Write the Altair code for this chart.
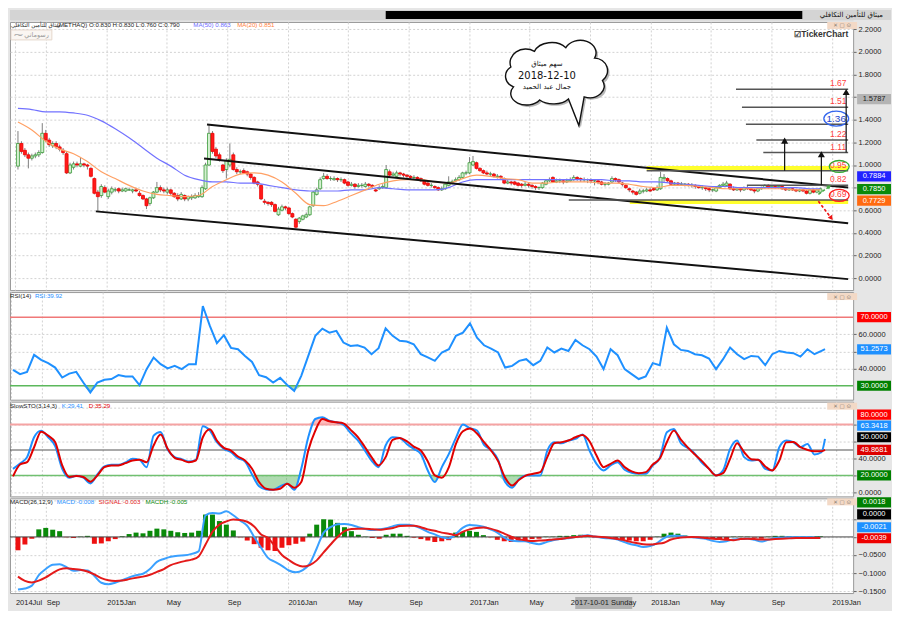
import altair as alt
import pandas as pd

# ---------------- data ----------------
FIRST_WEEK = "2014-07-06"

opens = [0.99,1.19,1.13,1.09,1.06,1.08,1.09,1.11,1.28,1.22,
         1.17,1.19,1.16,1.13,1.10,0.93,0.98,1.01,0.99,1.01,
         1.00,0.97,0.88,0.76,0.73,0.80,0.72,0.76,0.78,0.79,
         0.77,0.77,0.78,0.77,0.78,0.75,0.73,0.70,0.66,0.71,
         0.76,0.80,0.78,0.76,0.78,0.75,0.73,0.70,0.73,0.70,
         0.71,0.71,0.72,0.72,0.79,1.00,1.28,1.14,1.09,1.00,
         0.96,1.00,1.09,0.96,0.94,0.95,0.94,0.92,0.89,0.85,
         0.82,0.68,0.67,0.67,0.65,0.56,0.60,0.63,0.62,0.57,
         0.52,0.50,0.52,0.54,0.56,0.64,0.74,0.79,0.88,0.90,
         0.88,0.87,0.88,0.87,0.87,0.85,0.82,0.83,0.81,0.82,
         0.81,0.83,0.82,0.78,0.79,0.80,0.80,0.94,0.91,0.90,
         0.93,0.92,0.91,0.90,0.89,0.89,0.88,0.86,0.84,0.82,
         0.81,0.80,0.78,0.79,0.82,0.85,0.86,0.87,0.89,0.93,
         0.93,1.00,1.02,0.97,0.95,0.93,0.92,0.92,0.90,0.90,
         0.88,0.84,0.85,0.85,0.84,0.83,0.82,0.83,0.82,0.81,
         0.80,0.80,0.83,0.86,0.89,0.85,0.86,0.86,0.85,0.86,
         0.87,0.89,0.88,0.87,0.87,0.87,0.86,0.86,0.85,0.83,
         0.83,0.85,0.88,0.87,0.84,0.82,0.79,0.77,0.76,0.75,
         0.77,0.77,0.78,0.79,0.78,0.79,0.88,0.88,0.86,0.83,
         0.84,0.83,0.83,0.83,0.82,0.82,0.81,0.80,0.80,0.79,
         0.78,0.77,0.80,0.82,0.82,0.83,0.79,0.78,0.79,0.78,
         0.80,0.79,0.78,0.77,0.79,0.80,0.82,0.80,0.81,0.80,
         0.81,0.79,0.78,0.79,0.78,0.77,0.78,0.77,0.75,0.78,
         0.76,0.76]
highs = [1.30,1.21,1.15,1.11,1.10,1.11,1.13,1.37,1.31,1.24,
         1.21,1.21,1.18,1.15,1.12,1.02,1.03,1.03,1.07,1.02,
         1.01,0.98,0.89,0.78,0.83,0.82,0.79,0.81,0.80,0.80,
         0.80,0.80,0.80,0.79,0.80,0.77,0.74,0.71,0.72,0.77,
         0.85,0.82,0.80,0.80,0.79,0.76,0.75,0.76,0.74,0.73,
         0.74,0.75,0.76,0.82,1.02,1.36,1.30,1.16,1.11,1.01,
         1.06,1.19,1.11,0.98,0.96,0.97,0.95,0.93,0.90,0.86,
         0.83,0.70,0.68,0.68,0.66,0.63,0.65,0.64,0.63,0.58,
         0.53,0.54,0.56,0.58,0.64,0.77,0.80,0.89,0.93,0.92,
         0.90,0.90,0.89,0.89,0.88,0.86,0.85,0.84,0.84,0.84,
         0.85,0.84,0.83,0.79,0.82,0.83,1.00,0.96,0.94,0.95,
         0.94,0.93,0.92,0.91,0.91,0.90,0.89,0.87,0.85,0.84,
         0.82,0.81,0.81,0.84,0.90,0.87,0.89,0.91,0.94,0.95,
         1.07,1.08,1.03,0.98,0.96,0.95,0.94,0.93,0.92,0.91,
         0.89,0.87,0.86,0.86,0.85,0.84,0.85,0.84,0.83,0.82,
         0.81,0.85,0.87,0.89,0.90,0.88,0.88,0.87,0.88,0.89,
         0.91,0.90,0.89,0.89,0.88,0.88,0.87,0.87,0.86,0.85,
         0.85,0.90,0.89,0.88,0.85,0.83,0.80,0.78,0.77,0.79,
         0.79,0.80,0.80,0.80,0.82,0.94,0.92,0.89,0.87,0.85,
         0.85,0.85,0.84,0.84,0.84,0.83,0.82,0.82,0.81,0.80,
         0.79,0.81,0.83,0.85,0.86,0.84,0.81,0.80,0.80,0.81,
         0.82,0.80,0.79,0.80,0.81,0.83,0.83,0.82,0.82,0.82,
         0.82,0.80,0.80,0.80,0.79,0.79,0.79,0.78,0.79,0.79,
         0.79,0.80]
lows = [0.96,1.10,1.07,0.97,1.04,1.06,1.07,1.10,1.20,1.16,
        1.15,1.14,1.12,1.09,0.92,0.92,0.96,0.98,0.98,0.98,
        0.96,0.89,0.74,0.59,0.71,0.75,0.70,0.74,0.76,0.75,
        0.76,0.76,0.77,0.75,0.76,0.72,0.69,0.61,0.64,0.70,
        0.75,0.76,0.75,0.74,0.73,0.71,0.68,0.69,0.68,0.68,
        0.69,0.70,0.71,0.71,0.78,0.99,1.10,1.06,1.03,0.93,
        0.88,0.98,0.95,0.92,0.92,0.92,0.90,0.87,0.83,0.81,
        0.69,0.65,0.64,0.63,0.58,0.55,0.59,0.60,0.56,0.53,
        0.44,0.48,0.51,0.53,0.55,0.63,0.73,0.78,0.87,0.87,
        0.86,0.86,0.85,0.85,0.83,0.81,0.81,0.79,0.80,0.80,
        0.80,0.80,0.79,0.76,0.78,0.79,0.79,0.89,0.90,0.89,
        0.90,0.89,0.88,0.87,0.87,0.87,0.85,0.82,0.81,0.80,
        0.79,0.77,0.77,0.78,0.81,0.83,0.85,0.86,0.88,0.91,
        0.92,0.99,0.96,0.94,0.92,0.91,0.90,0.89,0.88,0.87,
        0.83,0.83,0.82,0.82,0.81,0.80,0.81,0.80,0.79,0.78,
        0.78,0.79,0.82,0.85,0.84,0.84,0.84,0.83,0.84,0.85,
        0.86,0.86,0.85,0.85,0.84,0.84,0.82,0.83,0.82,0.81,
        0.82,0.84,0.85,0.84,0.81,0.79,0.76,0.74,0.73,0.74,
        0.75,0.76,0.76,0.77,0.77,0.78,0.85,0.85,0.82,0.82,
        0.82,0.82,0.81,0.81,0.80,0.79,0.79,0.78,0.77,0.76,
        0.76,0.76,0.79,0.81,0.81,0.78,0.77,0.77,0.76,0.77,
        0.78,0.77,0.75,0.76,0.78,0.79,0.79,0.79,0.79,0.79,
        0.78,0.77,0.77,0.77,0.76,0.76,0.76,0.74,0.74,0.75,
        0.75,0.75]
closes = [1.19,1.12,1.09,1.06,1.08,1.09,1.11,1.28,1.22,1.18,
          1.19,1.16,1.14,1.11,0.93,1.00,1.01,1.00,1.01,1.00,
          0.99,0.90,0.75,0.72,0.81,0.76,0.77,0.79,0.78,0.77,
          0.78,0.79,0.78,0.78,0.77,0.73,0.70,0.64,0.71,0.76,
          0.80,0.78,0.77,0.78,0.75,0.72,0.70,0.74,0.70,0.72,
          0.72,0.73,0.73,0.80,1.00,1.28,1.12,1.08,1.05,0.95,
          1.04,1.05,0.96,0.94,0.94,0.93,0.92,0.89,0.84,0.83,
          0.70,0.67,0.66,0.65,0.59,0.61,0.63,0.62,0.57,0.54,
          0.45,0.53,0.55,0.56,0.63,0.76,0.78,0.87,0.90,0.88,
          0.88,0.88,0.87,0.87,0.84,0.82,0.83,0.81,0.82,0.82,
          0.83,0.82,0.81,0.77,0.80,0.81,0.96,0.91,0.92,0.93,
          0.92,0.91,0.90,0.89,0.89,0.88,0.86,0.83,0.82,0.82,
          0.80,0.78,0.79,0.83,0.85,0.85,0.87,0.89,0.93,0.93,
          1.02,1.03,0.97,0.95,0.93,0.92,0.92,0.90,0.90,0.89,
          0.84,0.85,0.84,0.83,0.82,0.82,0.83,0.82,0.81,0.80,
          0.80,0.84,0.86,0.87,0.85,0.86,0.86,0.85,0.86,0.87,
          0.89,0.88,0.87,0.87,0.87,0.86,0.86,0.85,0.83,0.83,
          0.84,0.88,0.87,0.85,0.83,0.80,0.78,0.76,0.74,0.77,
          0.77,0.78,0.77,0.78,0.80,0.89,0.89,0.86,0.83,0.84,
          0.83,0.83,0.83,0.82,0.82,0.81,0.80,0.80,0.79,0.78,
          0.78,0.80,0.82,0.83,0.84,0.79,0.78,0.79,0.78,0.80,
          0.79,0.78,0.77,0.79,0.80,0.82,0.80,0.81,0.80,0.81,
          0.79,0.78,0.79,0.78,0.77,0.78,0.77,0.75,0.78,0.76,
          0.78,0.79]

MA_WEEKS = list(range(0, 229, 4)) + [231]
ma50 = [1.50,1.49,1.47,1.47,1.46,1.44,1.39,1.32,1.24,1.15,
        1.06,0.99,0.91,0.87,0.85,0.85,0.84,0.84,0.82,0.80,
        0.78,0.77,0.77,0.77,0.78,0.78,0.80,0.79,0.78,0.78,
        0.78,0.80,0.85,0.87,0.87,0.87,0.87,0.87,0.87,0.87,
        0.87,0.87,0.87,0.86,0.86,0.85,0.85,0.84,0.83,0.82,
        0.81,0.81,0.80,0.80,0.80,0.80,0.80,0.79,0.79]
ma20 = [1.38,1.31,1.21,1.14,1.10,1.03,0.94,0.88,0.82,0.77,
        0.74,0.73,0.72,0.73,0.81,0.87,0.92,0.93,0.91,0.85,
        0.75,0.65,0.64,0.68,0.73,0.78,0.83,0.86,0.87,0.87,
        0.85,0.84,0.88,0.91,0.90,0.88,0.87,0.84,0.84,0.85,
        0.85,0.85,0.84,0.84,0.83,0.81,0.80,0.82,0.82,0.81,
        0.80,0.79,0.79,0.79,0.79,0.79,0.78,0.78,0.78]

IND_WEEKS = list(range(0, 231, 2)) + [231]
rsi = [39.3,36.8,38.1,48.0,45.1,43.2,40.6,34.8,37.1,38.1,
       31.9,26.1,31.9,33.5,33.9,36.2,35.4,35.4,30.4,39.7,
       46.5,42.6,40.1,41.6,39.7,42.6,42.6,76.5,64.9,54.8,
       59.5,52.1,51.3,47.4,43.9,36.2,35.0,31.9,34.6,30.4,
       27.0,35.8,47.4,59.1,63.3,61.0,62.0,55.2,53.2,53.6,
       52.3,48.4,51.9,63.5,59.1,56.2,55.8,54.2,48.4,46.5,
       44.5,49.4,51.3,59.1,61.0,66.4,58.1,53.6,51.7,49.4,
       40.6,41.6,44.5,45.5,42.0,44.5,52.3,49.4,51.7,50.3,
       56.7,53.6,51.3,47.0,39.7,51.3,47.8,39.7,36.8,33.9,
       35.4,43.2,42.0,63.9,54.2,50.9,50.3,48.4,47.8,45.9,
       39.7,45.5,52.3,48.4,45.5,47.4,47.0,42.0,48.4,50.3,
       49.4,49.0,47.0,51.3,48.4,50.3,51.3]
sto_k = [27.8,34.1,41.6,65.1,72.9,65.1,54.5,27.8,17.3,19.6,
         17.3,10.6,21.2,30.6,32.5,32.5,35.3,39.6,38.4,29.8,
         67.0,71.4,50.2,41.6,39.2,36.5,38.4,78.0,72.9,59.2,
         51.4,47.4,40.4,36.5,21.2,7.1,3.5,3.1,7.1,10.2,
         3.1,27.8,65.1,86.6,88.6,84.7,82.7,80.0,70.2,61.9,
         50.2,37.6,29.8,55.3,65.1,64.3,57.2,51.4,45.5,25.9,
         12.2,29.8,45.5,64.3,80.0,75.7,72.9,56.1,50.2,38.4,
         12.2,5.5,15.7,20.0,20.0,20.0,49.4,59.2,58.0,61.2,
         63.1,68.2,49.4,33.7,25.9,31.8,35.7,26.7,23.1,22.0,
         22.0,31.8,40.8,71.0,74.9,58.0,52.5,45.5,34.9,27.8,
         20.0,25.9,51.4,61.2,41.6,37.6,38.4,27.8,25.9,53.3,
         61.2,59.2,53.3,57.2,44.7,47.4,63.1]
sto_d = [18.8,32.9,35.7,53.3,71.7,67.0,59.2,31.8,18.1,19.2,
         18.1,12.6,20.0,29.8,31.8,31.8,34.5,37.6,38.4,35.7,
         55.3,68.2,51.4,40.8,38.4,35.7,37.6,65.1,74.5,61.2,
         52.5,49.4,42.3,37.6,27.8,12.2,4.3,3.1,4.3,10.2,
         5.5,12.2,49.4,72.9,86.6,83.9,82.7,81.5,74.1,65.9,
         54.1,41.6,31.8,41.6,62.0,64.3,60.4,54.1,49.4,36.5,
         20.0,17.3,29.8,57.2,72.1,75.3,69.4,59.2,49.4,36.9,
         17.3,8.2,14.9,20.0,22.0,23.9,41.6,58.0,59.2,61.2,
         65.1,67.8,60.4,43.5,29.8,33.7,37.6,29.8,24.7,22.7,
         23.9,32.9,40.0,59.2,72.9,62.3,52.9,44.7,36.9,27.8,
         20.0,22.7,39.6,58.0,47.4,39.2,38.4,30.6,25.9,37.6,
         59.2,59.6,53.3,50.2,48.6,48.6,50.2]
macd = [-0.146,-0.143,-0.135,-0.106,-0.089,-0.077,-0.076,-0.084,-0.094,-0.092,
        -0.093,-0.108,-0.127,-0.131,-0.127,-0.120,-0.112,-0.106,-0.102,-0.089,
        -0.069,-0.061,-0.055,-0.052,-0.051,-0.047,-0.040,0.060,0.066,0.065,
        0.071,0.060,0.045,0.031,0.000,-0.030,-0.058,-0.069,-0.080,-0.093,
        -0.098,-0.092,-0.074,-0.032,0.012,0.027,0.035,0.036,0.033,0.027,
        0.022,0.019,0.021,0.024,0.030,0.034,0.034,0.031,0.024,0.014,
        0.007,-0.001,-0.004,0.007,0.025,0.033,0.032,0.028,0.021,0.012,
        -0.002,-0.010,-0.012,-0.012,-0.017,-0.020,-0.015,-0.009,-0.006,-0.004,
        -0.001,0.002,0.005,0.001,-0.002,-0.004,-0.006,-0.012,-0.019,-0.023,
        -0.028,-0.025,-0.017,-0.003,0.003,0.003,0.001,-0.001,-0.003,-0.005,
        -0.011,-0.014,-0.012,-0.007,-0.006,-0.005,-0.008,-0.013,-0.008,-0.003,
        -0.002,-0.001,-0.001,-0.001,-0.001,-0.002,-0.002]
macd_signal = [-0.110,-0.122,-0.126,-0.121,-0.112,-0.100,-0.090,-0.087,-0.089,-0.091,
               -0.096,-0.104,-0.114,-0.120,-0.122,-0.121,-0.117,-0.113,-0.110,-0.105,
               -0.097,-0.089,-0.078,-0.072,-0.067,-0.063,-0.054,-0.021,0.014,0.034,
               0.043,0.048,0.047,0.042,0.029,0.007,-0.003,-0.026,-0.050,-0.064,
               -0.076,-0.082,-0.078,-0.065,-0.043,-0.021,0.000,0.016,0.022,0.023,
               0.023,0.021,0.020,0.022,0.025,0.030,0.031,0.031,0.027,0.021,
               0.017,0.012,0.009,0.005,0.014,0.021,0.025,0.026,0.023,0.017,
               0.009,0.001,-0.006,-0.009,-0.011,-0.010,-0.009,-0.007,-0.006,-0.003,
               -0.001,0.001,0.003,0.001,0.000,-0.002,-0.005,-0.008,-0.013,-0.017,
               -0.020,-0.021,-0.019,-0.016,-0.007,-0.003,-0.001,0.000,-0.001,-0.003,
               -0.005,-0.006,-0.008,-0.009,-0.006,-0.005,-0.006,-0.007,-0.007,-0.006,
               -0.005,-0.004,-0.003,-0.003,-0.003,-0.003,-0.003]
macd_hist = [-0.037,-0.021,-0.005,0.021,0.025,0.020,0.016,-0.001,-0.003,0.001,
             0.003,-0.019,-0.018,-0.012,-0.006,0.002,0.008,0.012,0.010,0.017,
             0.023,0.021,0.017,0.013,0.011,0.012,0.017,0.062,0.062,0.044,
             0.034,0.018,-0.001,-0.010,-0.020,-0.030,-0.037,-0.039,-0.030,-0.023,
             -0.019,-0.013,0.009,0.034,0.049,0.048,0.039,0.027,0.016,0.006,
             0.001,-0.003,-0.005,0.006,0.009,0.009,0.003,-0.002,-0.006,-0.010,
             -0.014,-0.012,-0.009,0.012,0.014,0.017,0.014,0.005,-0.001,-0.008,
             -0.012,-0.014,-0.012,-0.009,-0.006,-0.005,0.001,0.001,0.003,0.003,
             0.005,0.006,0.004,-0.001,-0.003,-0.005,-0.006,-0.008,-0.010,-0.012,
             -0.012,-0.008,0.001,0.009,0.012,0.009,0.004,0.001,-0.001,-0.003,
             -0.005,-0.007,-0.006,0.001,0.001,0.001,-0.002,-0.005,0.001,0.003,
             0.003,0.002,0.001,0.001,0.001,0.002,0.002]

x_ticks = ["2014-07-01","2014-09-01","2015-01-01","2015-05-01","2015-09-01",
           "2016-01-01","2016-05-01","2016-09-01","2017-01-01","2017-05-01",
           "2017-09-01","2018-01-01","2018-05-01","2018-09-01","2019-01-01"]

# chart annotations (dates / prices)
trend_d1 = ["2015-07-22", "2015-07-16", "2014-12-10"]
trend_p1 = [1.357, 1.057, 0.590]
trend_p2 = [0.800, 0.485, -0.009]
level_start = ["2018-06-22","2018-07-04","2018-07-12","2018-08-02","2018-08-16","2017-12-24","2018-07-14","2017-07-20"]
level_price = [1.67, 1.51, 1.36, 1.22, 1.11, 0.95, 0.82, 0.69]
level_text = ["1.67", "1.51", "1.36", "1.22", "1.11", "0.95", "0.82", "0.69"]
AX_END = "2019-02-03"

# ---------------- layout ----------------
W = 846
H_HEAD, H_PRICE, H_RSI, H_STO, H_MACD = 10, 269, 108, 95, 95
FONT = "Liberation Sans"
AR_FONT = "DejaVu Sans"
LEG = 6.2

wd = pd.date_range(FIRST_WEEK, periods=len(closes), freq="7D").strftime("%Y-%m-%d")
def wk(idx):
    return [wd[i] for i in idx]

candles = pd.DataFrame({"date": list(wd), "open": opens, "high": highs, "low": lows, "close": closes})
ma_df = pd.DataFrame({"date": wk(MA_WEEKS), "ma50": ma50, "ma20": ma20})
ind = pd.DataFrame({"date": wk(IND_WEEKS), "rsi": rsi, "k": sto_k, "d": sto_d,
                    "macd": macd, "sig": macd_signal, "hist": macd_hist})

xscale = alt.Scale(type="utc", nice=False,
                   domain=[alt.DateTime(year=2014, month=6, date=30, utc=True),
                           alt.DateTime(year=2019, month=2, date=3, utc=True)])
xvals = [alt.DateTime(year=int(s[:4]), month=int(s[5:7]), date=1, utc=True) for s in x_ticks]
GRID = "#d2d2d2"

xaxis_hidden = alt.Axis(values=xvals, grid=True, gridColor=GRID, gridDash=[2, 2], labels=False,
                        ticks=False, domain=False, title=None)
lab_expr = ("utcFormat(datum.value,'%m')=='01' || utcFormat(datum.value,'%Y%m')=='201407' ? "
            "utcFormat(datum.value,'%Y%b') : (utcFormat(datum.value,'%Y%m')=='201709' ? '' : "
            "utcFormat(datum.value,'%b'))")
xaxis_bottom = alt.Axis(values=xvals, grid=True, gridColor=GRID, gridDash=[2, 2], labels=True,
                        ticks=False, domain=False, title=None, labelExpr=lab_expr, labelAlign="left",
                        labelBaseline="top", labelPadding=6, labelFontSize=7.5, labelFont=FONT,
                        labelColor="#222", labelFlush=False, labelOverlap=False)

def yaxis(values, expr):
    return alt.Axis(orient="right", values=values, grid=True, gridColor=GRID, gridDash=[2, 2],
                    domain=False, ticks=True, tickSize=3, tickColor="#666", labelExpr=expr,
                    labelFontSize=7.5, labelFont=FONT, labelColor="#222", labelPadding=2, title=None)

def mkX(axis):
    def X(field):
        return alt.X(field, type="temporal", scale=xscale, axis=axis)
    return X

def mkY(scale, axis):
    def Y(field):
        return alt.Y(field, type="quantitative", scale=scale, axis=axis)
    def YD(v):
        return alt.YDatum(v, scale=scale, axis=axis)
    return Y, YD

one = pd.DataFrame({"k": [0]})

def txt(x, y, s, color="#222", size=7.5, align="left", weight="normal", font=FONT):
    return alt.Chart(one).mark_text(align=align, baseline="middle", fontSize=size, font=font,
                                    color=color, fontWeight=weight).encode(
        x=alt.value(x), y=alt.value(y), text=alt.value(s))

def box(x1, x2, y1, y2, fill, stroke=None):
    kw = dict(fill=fill)
    if stroke:
        kw.update(stroke=stroke, strokeWidth=1)
    return alt.Chart(one).mark_rect(**kw).encode(
        x=alt.value(x1), x2=alt.value(x2), y=alt.value(y1), y2=alt.value(y2))

def winctl(y0=1):
    return [box(W - 26, W + 4, y0, y0 + 7, "#f3d9c6"),
            txt(W - 11, y0 + 3.5, "✕ ▢ ⊙", color="#8a7a70", size=5.5, align="center", font=AR_FONT)]

BADGE = "M-1,-0.3L1,-0.3L1,0.3L-1,0.3Z"
def badges(Y, pos, texts, fills, tcolors):
    df = pd.DataFrame({"pos": pos, "t": texts, "f": fills, "tc": tcolors})
    b = alt.Chart(df).mark_point(shape=BADGE, filled=True, size=1156, opacity=1).encode(
        x=alt.value(W + 21), y=Y("pos"), color=alt.Color("f:N", scale=None))
    t = alt.Chart(df).mark_text(fontSize=7.5, font=FONT, align="center", baseline="middle").encode(
        x=alt.value(W + 21), y=Y("pos"), text="t:N", color=alt.Color("tc:N", scale=None))
    return [b, t]

# ---------------- header ----------------
header = alt.layer(
    box(0, W + 38, 0, H_HEAD, "#d4d4d4"),
    box(377, 795, 1, 9, "#000000"),
    txt(876, 5, "ميثاق للتأمين التكافلي", color="#111", size=7, align="right", font=AR_FONT),
).properties(width=W, height=H_HEAD,
             view=alt.ViewBackground(fill="#d4d4d4", stroke="transparent"))

# ---------------- price panel ----------------
XH = mkX(xaxis_hidden)
pscale = alt.Scale(domain=[-0.1057, 2.2643], nice=False, zero=False)
price_expr = "(abs(datum.value-1.6)<0.01 || abs(datum.value-0.8)<0.01) ? '' : format(datum.value,'.4f')"
price_axis = yaxis([0.0, 0.2, 0.4, 0.6, 0.8, 1.0, 1.2, 1.4, 1.6, 1.8, 2.0, 2.2], price_expr)
YP, YPD = mkY(pscale, price_axis)

wicks = alt.Chart(candles).mark_rule(color="#808080", strokeWidth=1).encode(
    x=XH("date"), y=YP("low"), y2="high")

bands = alt.Chart(pd.DataFrame({"d1": ["2017-12-24", "2017-11-20"], "d2": [AX_END, AX_END],
                                "p1": [0.95, 0.655], "p2": [0.99, 0.69]})).mark_rect(
    color="#ffff22", opacity=0.95).encode(x=XH("d1"), x2="d2", y=YP("p1"), y2="p2")

up = alt.Chart(candles).transform_filter("datum.close >= datum.open").mark_bar(
    size=3, fill="#d4f0d0", stroke="#3a9a3a", strokeWidth=0.8).encode(
    x=XH("date"), y=YP("open"), y2="close")
down = alt.Chart(candles).transform_filter("datum.close < datum.open").mark_bar(
    size=3, fill="#ff1a1a", stroke="#ee0000", strokeWidth=0.8).encode(
    x=XH("date"), y=YP("open"), y2="close")

ma50_l = alt.Chart(ma_df).mark_line(color="#7272ff", strokeWidth=1.2, interpolate="monotone").encode(
    x=XH("date"), y=YP("ma50"))
ma20_l = alt.Chart(ma_df).mark_line(color="#ffa064", strokeWidth=1.2, interpolate="monotone").encode(
    x=XH("date"), y=YP("ma20"))

trend_df = pd.DataFrame({"d1": trend_d1, "d2": [AX_END] * 3, "p1": trend_p1, "p2": trend_p2})
trend = alt.Chart(trend_df).mark_rule(color="#111", strokeWidth=2).encode(
    x=XH("d1"), x2="d2", y=YP("p1"), y2="p2")

lev_df = pd.DataFrame({"d1": level_start, "d2": [AX_END] * 8, "p": level_price, "t": level_text})
levels = alt.Chart(lev_df).mark_rule(color="#555", strokeWidth=1.5).encode(
    x=XH("d1"), x2="d2", y=YP("p"))
lev_lab = alt.Chart(lev_df[lev_df.t != "1.36"].assign(d="2019-01-14")).mark_text(
    color="#ff4040", fontSize=8.5, font=FONT, baseline="bottom", dy=-1, align="center").encode(
    x=XH("d"), y=YP("p"), text="t:N")
lab136 = alt.Chart(pd.DataFrame({"d": ["2019-01-10"], "p": [1.36], "t": ["1.36"]})).mark_text(
    color="#2244cc", fontSize=10, font=FONT, baseline="bottom", dy=0, align="center").encode(
    x=XH("d"), y=YP("p"), text="t:N")

ELL = "M-1,0A1,0.6,0,1,1,1,0A1,0.6,0,1,1,-1,0Z"
circ_df = pd.DataFrame({"d": ["2019-01-16", "2019-01-16", "2019-01-10"],
                        "p": [0.987, 0.731, 1.41], "c": ["#33aa33", "#ff2020", "#3366ee"],
                        "s": [400, 400, 620]})
circles = alt.Chart(circ_df).mark_point(shape=ELL, filled=False, strokeWidth=1.3, opacity=1).encode(
    x=XH("d"), y=YP("p"), color=alt.Color("c:N", scale=None), size=alt.Size("s:Q", scale=None))

arr_df = pd.DataFrame({"d": ["2018-09-28", "2018-12-11", "2019-01-30"],
                       "p1": [0.95, 0.82, 1.11], "p2": [1.20, 1.08, 1.63], "tip": [1.215, 1.095, 1.645]})
arr_l = alt.Chart(arr_df).mark_rule(color="#111", strokeWidth=1.2).encode(x=XH("d"), y=YP("p1"), y2="p2")
arr_h = alt.Chart(arr_df).mark_point(shape="triangle-up", filled=True, color="#111", size=50, opacity=1).encode(
    x=XH("d"), y=YP("tip"))

dash_df = pd.DataFrame({"d1": ["2018-12-05", "2018-12-05"], "d2": ["2018-12-27", "2018-12-31"],
                        "p1": [0.74, 0.68], "p2": [0.81, 0.53], "c": ["#44aa44", "#ee1111"]})
dash = alt.Chart(dash_df).mark_rule(strokeDash=[3, 2], strokeWidth=1.6).encode(
    x=XH("d1"), x2="d2", y=YP("p1"), y2="p2", color=alt.Color("c:N", scale=None))
dash_g = alt.Chart(dash_df.iloc[[0]]).mark_point(shape="triangle-up", filled=True, size=22, angle=54,
                                                 color="#44aa44", opacity=1).encode(x=XH("d2"), y=YP("p2"))
dash_r = alt.Chart(dash_df.iloc[[1]]).mark_point(shape="triangle-down", filled=True, size=30, angle=324,
                                                 color="#ee1111", opacity=1).encode(x=XH("d2"), y=YP("p2"))

CLOUD = ("M-0.80,0.25 A0.25,0.22 0 0,1 -0.85,-0.13 A0.30,0.26 0 0,1 -0.40,-0.43 "
         "A0.35,0.26 0 0,1 0.20,-0.50 A0.30,0.24 0 0,1 0.75,-0.30 A0.25,0.24 0 0,1 0.90,0.13 "
         "A0.28,0.22 0 0,1 0.55,0.44 L0.45,0.99 L0.25,0.48 A0.35,0.22 0 0,1 -0.30,0.50 "
         "A0.30,0.22 0 0,1 -0.80,0.25 Z")
bub_df = pd.DataFrame({"d": ["2017-06-23"], "p": [1.806]})
bub_sh = alt.Chart(bub_df).mark_point(shape=CLOUD, filled=True, fill="#9a9a9a", size=11025, opacity=0.7,
                                      xOffset=2, yOffset=2).encode(x=XH("d"), y=YP("p"))
bub = alt.Chart(bub_df).mark_point(shape=CLOUD, filled=True, fill="white", stroke="#111", strokeWidth=1.4,
                                   size=11025, opacity=1, fillOpacity=1).encode(x=XH("d"), y=YP("p"))
bub_txt = alt.Chart(pd.DataFrame({"d": ["2017-06-06"] * 3, "p": [1.89, 1.789, 1.685],
                                  "t": ["سهم ميثاق", "2018-12-10", "جمال عبد الحميد"],
                                  "s": [7, 10, 7]})).mark_text(font=AR_FONT, color="#111", align="center",
                                                               baseline="middle").encode(
    x=XH("d"), y=YP("p"), text="t:N", size=alt.Size("s:Q", scale=None))

price_badges = badges(YP, [1.583, 0.899, 0.787, 0.685], ["1.5787", "0.7884", "0.7850", "0.7729"],
                      ["#b4b4b4", "#2222ff", "#0a8a0a", "#ff6a10"], ["#222", "white", "white", "white"])

price = alt.layer(
    wicks, bands, up, down, ma50_l, ma20_l, trend, levels, lev_lab, lab136, circles, arr_l, arr_h,
    dash, dash_g, dash_r, bub_sh, bub, bub_txt,
    txt(1, 3, "ميثاق للتأمين التكافلي", size=5.5, align="left", font=AR_FONT),
    txt(47, 3, "(METHAQ)  O:0.830  H:0.830  L:0.760  C:0.790", size=LEG),
    txt(184, 3, "MA(50)  0.863", color="#6b6bff", size=LEG),
    txt(228, 3, "MA(20)  0.851", color="#ff8040", size=LEG),
    box(1, 42, 8, 18, "#faf6f2", "#e6d8cc"),
    txt(39, 13, "رسوماتي", color="#999", size=6.5, align="right", font=AR_FONT),
    txt(4, 13, "⁓", color="#999", size=9, font=AR_FONT),
    txt(814, 12, "☑TickerChart", color="#333", size=8.5, weight="bold", align="center"),
    *winctl(0),
    *price_badges,
).properties(width=W, height=H_PRICE)

# ---------------- RSI panel ----------------
rscale = alt.Scale(domain=[21.86, 84.65], nice=False, zero=False)
rsi_axis = yaxis([40, 50, 60], "datum.value==50 ? '' : format(datum.value,'.4f')")
YR, YRD = mkY(rscale, rsi_axis)
rsi_base = alt.Chart(ind)
rsi_fill = rsi_base.transform_calculate(lo="min(datum.rsi, 30)").mark_area(
    color="#4caf50", opacity=0.45).encode(x=XH("date"), y=YR("lo"), y2=alt.datum(30))
r70 = alt.Chart(one).mark_rule(color="#f07878", strokeWidth=1.5).encode(y=YRD(70))
r30 = alt.Chart(one).mark_rule(color="#5cb85c", strokeWidth=1.5).encode(y=YRD(30))
rsi_line = rsi_base.mark_line(color="#1e90ff", strokeWidth=2).encode(x=XH("date"), y=YR("rsi"))
rsi_panel = alt.layer(
    rsi_fill, r70, r30, rsi_line,
    txt(0, 4, "RSI(14)", size=LEG), txt(25, 4, "RSI:39.92", color="#1e90ff", size=LEG),
    *winctl(1),
    *badges(YR, [70, 51.26, 30], ["70.0000", "51.2573", "30.0000"],
            ["#ff0000", "#1e90ff", "#008000"], ["white", "white", "white"]),
).properties(width=W, height=H_RSI)

# ---------------- Stochastic panel ----------------
sscale = alt.Scale(domain=[-4.71, 107.06], nice=False, zero=False)
sto_axis = yaxis([0, 20, 40, 60, 80, 100], "(datum.value==0 || datum.value==40) ? format(datum.value,'.4f') : ''")
YS, YSD = mkY(sscale, sto_axis)
sto_base = alt.Chart(ind)
s_lo = sto_base.transform_calculate(lo="min(datum.k, 20)").mark_area(color="#4caf50", opacity=0.45).encode(
    x=XH("date"), y=YS("lo"), y2=alt.datum(20))
s_hi = sto_base.transform_calculate(hi="max(datum.k, 80)").mark_area(color="#ff6b6b", opacity=0.45).encode(
    x=XH("date"), y=YS("hi"), y2=alt.datum(80))
s80 = alt.Chart(one).mark_rule(color="#f5a3a3", strokeWidth=2).encode(y=YSD(80))
s50 = alt.Chart(one).mark_rule(color="#555", strokeWidth=1.2).encode(y=YSD(50))
s20 = alt.Chart(one).mark_rule(color="#70c070", strokeWidth=1.5).encode(y=YSD(20))
k_line = sto_base.mark_line(color="#1e90ff", strokeWidth=2, interpolate="monotone").encode(x=XH("date"), y=YS("k"))
d_line = sto_base.mark_line(color="#e00000", strokeWidth=2, interpolate="monotone").encode(x=XH("date"), y=YS("d"))
sto_panel = alt.layer(
    s_lo, s_hi, s80, s50, s20, k_line, d_line,
    txt(0, 4, "SlowSTO(3,14,3)", size=LEG), txt(52, 4, "K:29.41", color="#1e90ff", size=LEG),
    txt(79, 4, "D:35.29", color="#e00000", size=LEG),
    *winctl(1),
    *badges(YS, [91.8, 78.8, 65.1, 50.2, 20], ["80.0000", "63.3418", "50.0000", "49.8681", "20.0000"],
            ["#ff0000", "#1e90ff", "#000000", "#dd0000", "#008000"], ["white"] * 5),
).properties(width=W, height=H_STO)

# ---------------- MACD panel ----------------
XB = mkX(xaxis_bottom)
mscale = alt.Scale(domain=[-0.1555, 0.1069], nice=False, zero=False)
macd_axis = yaxis([-0.15, -0.1, -0.05, 0, 0.05, 0.1],
                  "datum.value < -0.01 ? format(datum.value,'.4f') : ''")
YM, YMD = mkY(mscale, macd_axis)
m_base = alt.Chart(ind)
bars = m_base.mark_bar(size=5).encode(
    x=XB("date"), y=YM("hist"), y2=alt.datum(0),
    color=alt.condition("datum.hist >= 0", alt.value("#0a8a0a"), alt.value("#ee1111")))
m0 = alt.Chart(one).mark_rule(color="#444", strokeWidth=1).encode(y=YMD(0))
m_line = m_base.mark_line(color="#3aa0ff", strokeWidth=2, interpolate="monotone").encode(x=XB("date"), y=YM("macd"))
s_line = m_base.mark_line(color="#e41a1a", strokeWidth=2, interpolate="monotone").encode(x=XB("date"), y=YM("sig"))
cur_df = pd.DataFrame({"d1": ["2017-08-02"], "d2": ["2017-11-25"], "dm": ["2017-09-28"],
                       "t": ["2017-10-01 Sunday"]})
cur_box = alt.Chart(cur_df).mark_rect(color="#b0b0b0").encode(
    x=XB("d1"), x2="d2", y=alt.value(H_MACD + 4), y2=alt.value(H_MACD + 16))
cur_txt = alt.Chart(cur_df).mark_text(fontSize=7.5, font=FONT, color="#222", align="center",
                                      baseline="middle").encode(x=XB("dm"), y=alt.value(H_MACD + 10), text="t:N")
macd_panel = alt.layer(
    bars, m0, m_line, s_line, cur_box, cur_txt,
    txt(0, 4, "MACD(26,12,9)", size=LEG), txt(47, 4, "MACD:-0.008", color="#1e90ff", size=LEG),
    txt(89, 4, "SIGNAL:-0.003", color="#e41a1a", size=LEG), txt(136, 4, "MACDH:-0.005", color="#0a8a0a", size=LEG),
    *winctl(0),
    *badges(YM, [0.0959, 0.0627, 0.0268, -0.0036], ["0.0018", "0.0000", "-0.0021", "-0.0039"],
            ["#008000", "#000000", "#1e90ff", "#ee0000"], ["white"] * 4),
).properties(width=W, height=H_MACD)

chart = alt.vconcat(header, price, rsi_panel, sto_panel, macd_panel, spacing=2, bounds="flush").properties(
    background="#e6e6e6", padding={"left": 0, "top": 0, "right": 0, "bottom": 0}
).configure_view(fill="white", stroke="#9a9a9a", strokeWidth=1)

chart.save("out.html", embed_options={"renderer": "svg", "actions": False})
